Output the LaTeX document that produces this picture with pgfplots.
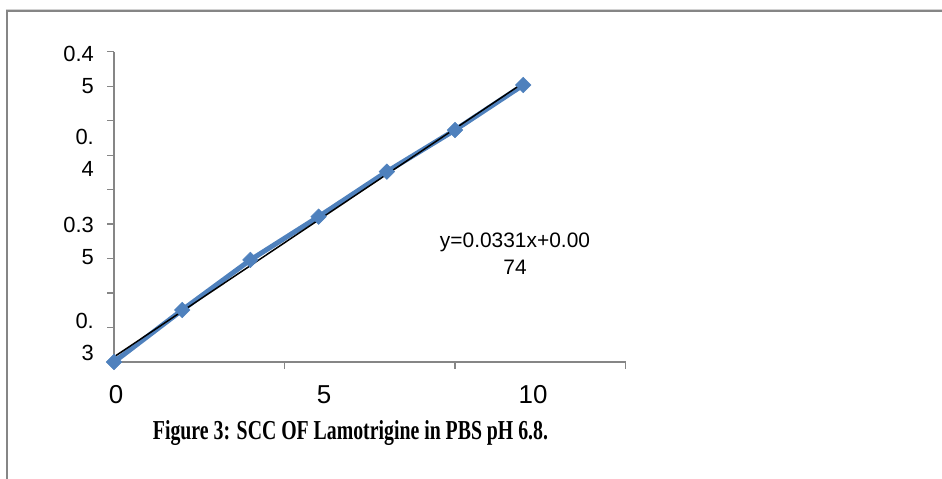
\documentclass[border=0pt]{standalone}
\usepackage{fontspec}
\setmainfont{Liberation Sans}
\newfontfamily\capfont{Liberation Serif}
\usepackage{graphicx}
\usepackage{pgfplots}
\pgfplotsset{compat=1.18}
\definecolor{xlblue}{HTML}{4F81BD}
\definecolor{axgray}{HTML}{868686}
\begin{document}
\begin{tikzpicture}[x=1bp,y=1bp]
\path[use as bounding box] (0,0) rectangle (942,479);
\draw[line width=0.8bp, color=gray!35] (5.5,469.2) -- (943,469.2);
\draw[line width=2bp, color=axgray] (6.5,-1) -- (6.5,467.5) -- (943,467.5);
\begin{axis}[
  at={(114bp,117bp)}, anchor=south west,
  scale only axis, width=511.5bp, height=310.3bp,
  xmin=0, xmax=15, ymin=0, ymax=0.45,
  clip=false,
  axis lines*=left,
  axis line style={axgray, line width=1.2bp, -},
  xtick={5,10,15},
  ytick={0.05,0.10,0.15,0.20,0.25,0.30,0.35,0.40,0.45},
  xticklabels={{},{},{}},
  yticklabels={{},{},{},{},{},{},{},{},{}},
  tick align=outside, major tick length=7bp,
  every tick/.style={axgray, line width=1.2bp},
  extra x ticks={0.06,6.16,12.29},
  extra x tick labels={0,5,10},
  extra y ticks={0.0363,0.1755,0.3031,0.4234},
  extra y tick labels={{0.\\3},{0.3\\5},{0.\\4},{0.4\\5}},
  extra tick style={major tick length=0pt, tick align=inside, every tick/.style={draw=none}},
  extra x tick style={xticklabel style={anchor=base, inner sep=0pt, yshift=-42bp, font=\fontsize{26}{30}\selectfont}},
  extra y tick style={yticklabel style={anchor=east, align=right, inner sep=0pt, xshift=-20bp, font=\fontsize{22}{32}\selectfont}},
]
\addplot[xlblue, line width=5bp, mark=square*, mark size=5.5bp,
  mark options={rotate=45, fill=xlblue, draw=xlblue, line width=0.5bp}]
  coordinates {(0,0.000) (2,0.0754) (4,0.148) (6,0.2107) (8,0.276) (10,0.3364) (12,0.4017)};
\addplot[black, line width=1.5bp] coordinates {(0,0.0074) (12,0.4046)};
\end{axis}
\node[align=center, font=\fontsize{21}{27}\selectfont] at (515,225.5) {y=0.0331x+0.00\\74};
\node[anchor=base, inner sep=0pt] at (350.5,39.7) {\resizebox{395bp}{19bp}{\capfont\bfseries Figure 3: SCC OF Lamotrigine in PBS pH 6.8.}};
\end{tikzpicture}
\end{document}
